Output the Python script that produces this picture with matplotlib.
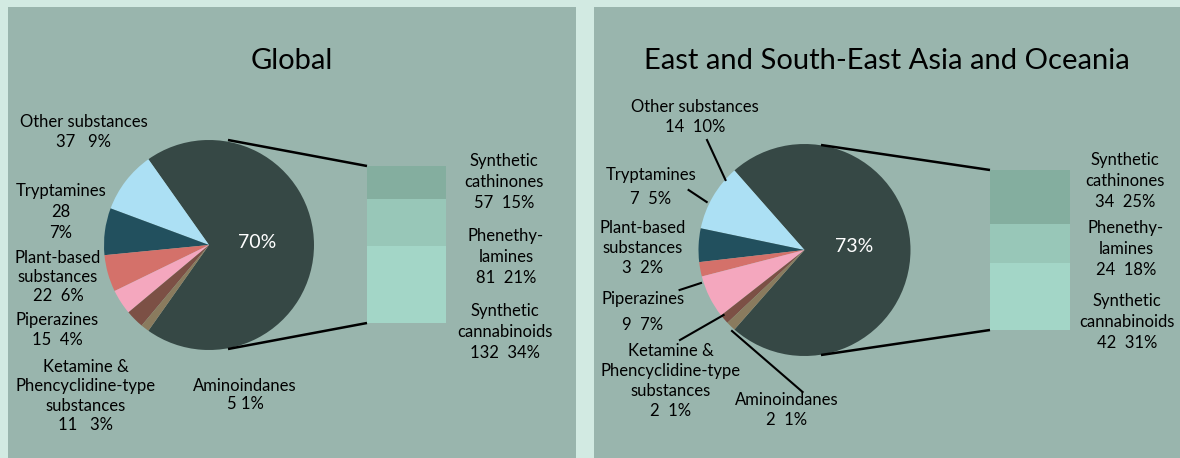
import matplotlib
matplotlib.use("Agg")
import matplotlib.pyplot as plt
from matplotlib.patches import Rectangle

plt.rcParams['font.family'] = ['Lato', 'DejaVu Sans']

# ---------------- data ----------------
pie_categories = ["Other substances", "Tryptamines", "Plant-based\nsubstances",
                  "Piperazines", "Ketamine &\nPhencyclidine-type\nsubstances",
                  "Aminoindanes"]
bar_categories = ["Synthetic\ncathinones", "Phenethy-\nlamines", "Synthetic\ncannabinoids"]

global_pie_values = [37, 28, 22, 15, 11, 5]
global_pie_pct = [9, 7, 6, 4, 3, 1]
global_bar_values = [57, 81, 132]
global_bar_pct = [15, 21, 34]
global_main_pct = 70

asia_pie_values = [14, 7, 3, 9, 2, 2]
asia_pie_pct = [10, 5, 2, 7, 1, 1]
asia_bar_values = [34, 24, 42]
asia_bar_pct = [25, 18, 31]
asia_main_pct = 73

titles = ["Global", "East and South-East Asia and Oceania"]

# ---------------- style ----------------
W, H = 1180, 458
BG_OUT = "#D2EAE2"
BG_PANEL = "#99B5AD"
MAIN_COLOR = "#364845"
PIE_COLORS = ["#ACE0F4", "#22505E", "#D4716A", "#F4A7BE", "#7C5045", "#8A7B5E"]
BAR_COLORS = ["#84AE9F", "#98C7B8", "#A3D6C7"]
LBL_FS = 12

fig = plt.figure(figsize=(W / 100, H / 100), dpi=100)
fig.patch.set_facecolor(BG_OUT)
ax = fig.add_axes([0, 0, 1, 1])


def Y(y):
    return H - y


def panel(pie_vals, pie_pct, bar_vals, bar_pct, main_pct, title, cfg):
    x0, x1 = cfg["panel"]
    ax.add_patch(Rectangle((x0, 0), x1 - x0, H - 7, facecolor=BG_PANEL,
                           edgecolor="none", zorder=0))
    ax.text((x0 + x1) / 2, Y(cfg["title_y"]), title, ha="center", va="baseline",
            fontsize=21, color="black")
    cx, cy, r = cfg["center"][0], Y(cfg["center"][1]), cfg["r"]
    main_val = sum(bar_vals)
    vals = [main_val] + list(pie_vals)
    total = sum(vals)
    start = -180.0 * main_val / total
    ax.pie(vals, colors=[MAIN_COLOR] + PIE_COLORS, center=(cx, cy), radius=r,
           startangle=start, counterclock=True,
           wedgeprops=dict(linewidth=0), frame=True)
    ax.text(cfg["main_lbl"][0], Y(cfg["main_lbl"][1]), f"{main_pct}%", color="white",
            ha="center", va="center", fontsize=14)

    # stacked bar
    bx0, bx1 = cfg["bar_x"]
    btop, bbot = cfg["bar_y"]
    bh = bbot - btop
    y = Y(btop)
    for v, c in zip(bar_vals, BAR_COLORS):
        h = bh * v / main_val
        ax.bar((bx0 + bx1) / 2, h, width=bx1 - bx0, bottom=y - h, color=c,
               linewidth=0, zorder=2)
        y -= h

    # connector lines
    (tx, ty), (bxx, byy) = cfg["conn"]
    ax.plot([tx, bx0], [Y(ty), Y(btop)], color="black", lw=1.8, zorder=3,
            solid_capstyle="butt")
    ax.plot([bxx, bx0], [Y(byy), Y(bbot)], color="black", lw=1.8, zorder=3,
            solid_capstyle="butt")

    # pie labels
    for i, (cat, v, p) in enumerate(zip(pie_categories, pie_vals, pie_pct)):
        lx, ly = cfg["pie_lbl"][i]
        txt = cfg["pie_fmt"][i].format(cat=cat, v=v, p=p)
        ax.text(lx, Y(ly), txt, ha="center", va="center", fontsize=LBL_FS,
                linespacing=cfg["pie_ls"][i], color="black", zorder=4)
    for i, (cat, v, p) in enumerate(zip(bar_categories, bar_vals, bar_pct)):
        lx, ly = cfg["bar_lbl"][i]
        ax.text(lx, Y(ly), f"{cat}\n{v}  {p}%", ha="center", va="center",
                fontsize=LBL_FS, linespacing=1.4, color="black", zorder=4)
    for (xa, ya), (xb, yb) in cfg.get("leaders", []):
        ax.plot([xa, xb], [Y(ya), Y(yb)], color="black", lw=1.5, zorder=3)


cfg_global = dict(
    panel=(7.5, 576), title_y=69, center=(209, 245), r=105, main_lbl=(257, 243),
    bar_x=(367, 446), bar_y=(166, 323),
    conn=((228, 140), (228, 349)),
    pie_lbl=[(84, 132), (61, 212), (58, 277), (57, 330), (86, 396), (245, 395)],
    pie_fmt=["{cat}\n{v}   {p}%", "{cat}\n{v}\n{p}%", "{cat}\n{v}  {p}%",
             "{cat}\n{v}  {p}%", "{cat}\n{v}   {p}%", "{cat}\n{v} {p}%"],
    pie_ls=[1.3, 1.35, 1.25, 1.3, 1.25, 1.2],
    bar_lbl=[(504, 182), (506, 257), (505, 332)],
)

cfg_asia = dict(
    panel=(594, 1180), title_y=69, center=(804.5, 250), r=106, main_lbl=(854, 247),
    bar_x=(990, 1070), bar_y=(170, 330),
    conn=((821, 145), (821, 355)),
    pie_lbl=[(695, 117), (651, 187), (643, 248), (643, 312), (671, 381), (787, 410)],
    pie_fmt=["{cat}\n{v}  {p}%", "{cat}\n{v}  {p}%", "{cat}\n{v}  {p}%",
             "{cat}\n{v}  {p}%", "{cat}\n{v}  {p}%", "{cat}\n{v}  {p}%"],
    pie_ls=[1.35, 1.6, 1.3, 1.75, 1.3, 1.25],
    bar_lbl=[(1125, 181), (1126, 249), (1127, 322)],
    leaders=[((707, 140), (725.5, 180)), ((688.6, 190), (706.7, 202)),
             ((679.6, 290), (701, 283)), ((680, 340), (723.6, 315)),
             ((732, 331), (802.6, 392))],
)

panel(global_pie_values, global_pie_pct, global_bar_values, global_bar_pct,
      global_main_pct, titles[0], cfg_global)
panel(asia_pie_values, asia_pie_pct, asia_bar_values, asia_bar_pct,
      asia_main_pct, titles[1], cfg_asia)

ax.set_aspect("auto")
ax.set_xlim(0, W)
ax.set_ylim(0, H)
ax.axis("off")

fig.savefig("out.png", dpi=100, facecolor=fig.get_facecolor())
